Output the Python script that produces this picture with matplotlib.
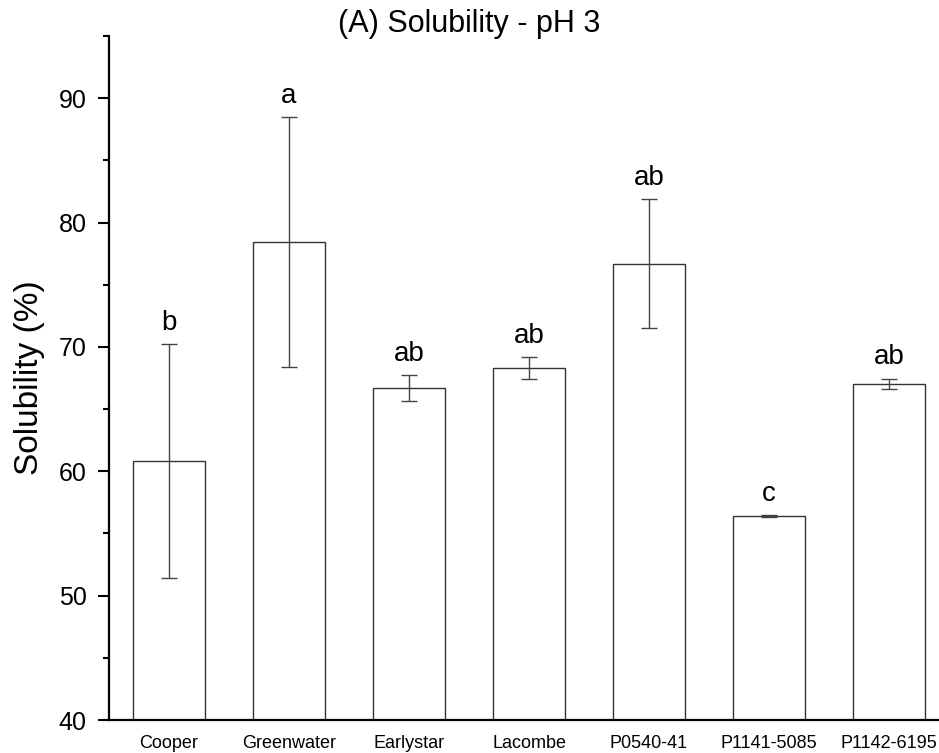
"""
Solubility at pH 3 for seven pea lines (bar chart with SD and letters)
"""
import numpy as np
import matplotlib.pyplot as plt
import matplotlib as mpl
from matplotlib.ticker import MultipleLocator

mpl.rcParams['font.family'] = ['Liberation Sans', 'DejaVu Sans']

# data
cultivars = ['Cooper', 'Greenwater', 'Earlystar', 'Lacombe',
             'P0540-41', 'P1141-5085', 'P1142-6195']
solubility = [60.8, 78.4, 66.7, 68.3, 76.7, 56.4, 67.05]
sd = [9.4, 10.05, 1.05, 0.9, 5.2, 0.08, 0.4]
letters = ['b', 'a', 'ab', 'ab', 'ab', 'c', 'ab']

fig = plt.figure(figsize=(9.39, 7.53), dpi=100)
ax = fig.add_axes([0.1161, 0.0438, 0.8946, 0.9084])

x = np.arange(len(cultivars))
ax.bar(x, solubility, width=0.6, facecolor='white', edgecolor='#333333',
       linewidth=1.0, zorder=2)
ax.errorbar(x, solubility, yerr=sd, fmt='none', ecolor='#444444',
            elinewidth=1.0, capsize=6, capthick=1.0, zorder=3)

for xi, m, s, lab in zip(x, solubility, sd, letters):
    ax.annotate(lab, (xi, m + s), xytext=(0, 6), textcoords='offset points',
                ha='center', va='bottom', fontsize=20)

ax.set_xlim(-0.5, 6.5)
ax.set_ylim(40, 95)
ax.set_xticks(x)
ax.set_xticklabels(cultivars, fontsize=13)
ax.tick_params(axis='x', length=0, pad=11)
ax.yaxis.set_major_locator(MultipleLocator(10))
ax.yaxis.set_minor_locator(MultipleLocator(5))
ax.set_yticks([40, 50, 60, 70, 80, 90])
ax.tick_params(axis='y', which='major', length=8, width=1.5, labelsize=18, pad=8)
ax.tick_params(axis='y', which='minor', length=4, width=1.5)

for side in ['top', 'right']:
    ax.spines[side].set_visible(False)
for side in ['left', 'bottom']:
    ax.spines[side].set_linewidth(1.6)

ax.set_ylabel('Solubility (%)', fontsize=24, labelpad=10)
fig.text(0.5, 0.968, '(A) Solubility - pH 3', ha='center', va='center',
         fontsize=22)

plt.savefig('out.png', dpi=100)
